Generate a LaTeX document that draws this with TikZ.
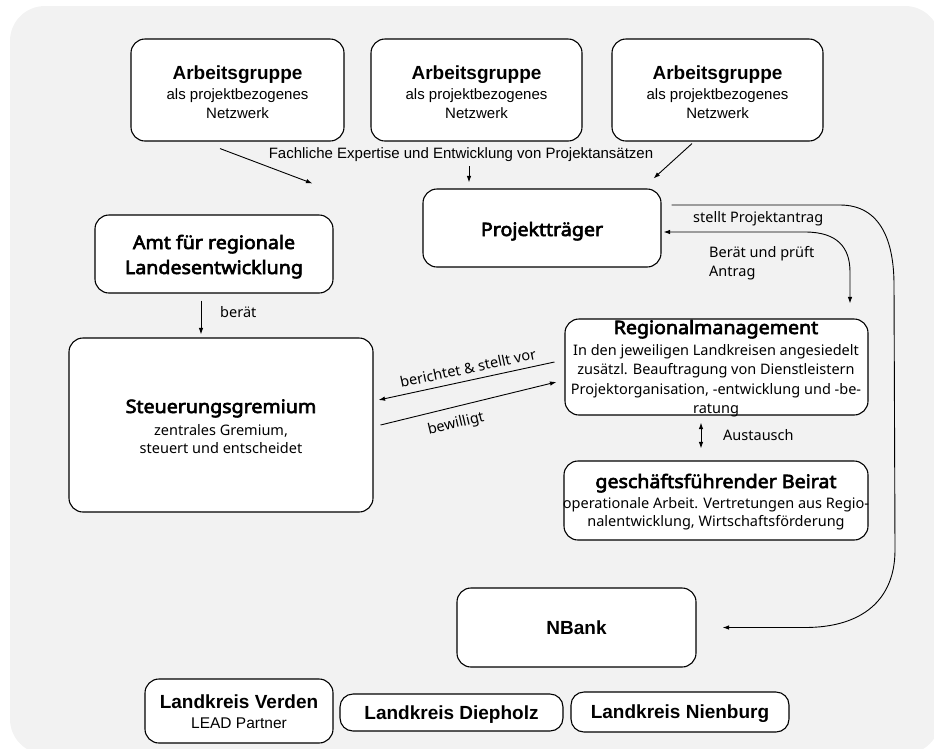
\documentclass[tikz,border=0pt]{standalone}
\usepackage{fontspec}
\setmainfont{Noto Sans}
\newfontfamily\lib{Liberation Sans}
\newfontfamily\notob[FakeBold=3.4,FakeStretch=1.06]{Noto Sans}
\usetikzlibrary{arrows.meta,calc}
\definecolor{bgcol}{RGB}{242,242,242}
\begin{document}
\begin{tikzpicture}[x=1pt,y=-1pt,
  box/.style={draw=black,line width=1.1pt,rounded corners=14pt,fill=white,inner sep=0pt},
  conn/.style={line width=0.9pt,-{Latex[length=6.5pt,width=4.5pt]}},
  dconn/.style={line width=0.9pt,{Latex[length=6.5pt,width=4.5pt]}-{Latex[length=6.5pt,width=4.5pt]}},
  agt/.style={anchor=base,inner sep=0pt,font=\lib\bfseries\fontsize{19}{22}\selectfont},
  agb/.style={anchor=base,inner sep=0pt,font=\lib\fontsize{15}{18}\selectfont},
  ttl/.style={anchor=base,inner sep=0pt,font=\notob\fontsize{18.5}{22}\selectfont},
  bod/.style={anchor=base,inner sep=0pt,font=\fontsize{14.5}{18}\selectfont},
  lbl/.style={anchor=base west,inner sep=0pt,font=\fontsize{14.5}{18}\selectfont},
]
\useasboundingbox (0,0) rectangle (934,748);
\fill[bgcol,rounded corners=35pt] (10,6) rectangle (940,754);

% boxes
\node[box,minimum width=213pt,minimum height=102pt] (ag1) at (237.5,90) {};
\node[box,minimum width=211pt,minimum height=102pt] (ag2) at (476.5,90) {};
\node[box,minimum width=211pt,minimum height=102pt] (ag3) at (717.5,90) {};
\node[box,minimum width=238pt,minimum height=78pt] (pt) at (542,228) {};
\node[box,minimum width=238pt,minimum height=78pt] (amt) at (214,254) {};
\node[box,minimum width=304pt,minimum height=174pt] (st) at (221,425) {};
\node[box,minimum width=303pt,minimum height=96pt] (rm) at (716.5,367) {};
\node[box,minimum width=304pt,minimum height=79pt] (br) at (716,500.5) {};
\node[box,minimum width=239pt,minimum height=79pt] (nb) at (576.5,627.5) {};
\node[box,minimum width=188pt,minimum height=64pt] (lv) at (239,711) {};
\node[box,minimum width=223pt,minimum height=37pt,rounded corners=13pt] (ld) at (451.5,712.5) {};
\node[box,minimum width=218pt,minimum height=40pt,rounded corners=13pt] (ln) at (680,712) {};

% AG texts
\foreach \n/\x in {1/237.5,2/476.5,3/717.5}{
  \node[agt] (ag\n t) at (\x,79) {Arbeitsgruppe};
  \node[agb] (ag\n a) at (\x,99) {als projektbezogenes};
  \node[agb] (ag\n b) at (\x,118) {Netzwerk};
}
\node[agb] (fach) at (461,158) {Fachliche Expertise und Entwicklung von Projektansätzen};

\node[ttl] (ptt) at (542,236) {Projektträger};
\node[ttl] (amt1) at (214,249) {Amt für regionale};
\node[ttl] (amt2) at (214,274) {Landesentwicklung};
\node[lbl] (berat) at (220,317) {berät};

\node[ttl] (st1) at (221,413) {Steuerungsgremium};
\node[bod] (st2) at (221,435) {zentrales Gremium,};
\node[bod] (st3) at (221,453) {steuert und entscheidet};

\node[ttl] (rm1) at (716,334) {Regionalmanagement};
\node[bod] (rm2) at (716,355) {In den jeweiligen Landkreisen angesiedelt};
\node[bod] (rm3) at (716,374) {zusätzl. Beauftragung von Dienstleistern};
\node[bod] (rm4) at (716,394) {Projektorganisation, -entwicklung und -be-};
\node[bod] (rm5) at (716,413) {ratung};

\node[lbl] (aus) at (723,440) {Austausch};

\node[ttl] (br1) at (716,488) {geschäftsführender Beirat};
\node[bod] (br2) at (716,508) {operationale Arbeit. Vertretungen aus Regio-};
\node[bod] (br3) at (716,526) {nalentwicklung, Wirtschaftsförderung};

\node[lbl] (spa) at (693,222) {stellt Projektantrag};
\node[lbl] (bup1) at (709,257) {Berät und prüft};
\node[lbl] (bup2) at (709,276) {Antrag};

\node[agt] (nbt) at (576.5,634) {NBank};
\node[agt] (lv1) at (239,708) {Landkreis Verden};
\node[agb,font=\lib\fontsize{15.5}{18}\selectfont] (lv2) at (239,728) {LEAD Partner};
\node[agt] (ldt) at (451.5,719) {Landkreis Diepholz};
\node[agt] (lnt) at (680,718) {Landkreis Nienburg};

\node[bod,anchor=center,rotate=12] (bsv) at (468,368) {berichtet \& stellt vor};
\node[bod,anchor=center,rotate=13.5] (bew) at (456,424) {bewilligt};

% connectors
\draw[conn] ($(ag1.south)+(-17.5,7)$) -- ($(pt.north west)+(-110,-5)$);
\draw[conn] ($(fach.south)+(8,5)$) -- ($(pt.north)+(-73,-6)$);
\draw[conn] ($(ag3.south)+(-25.5,2)$) -- ($(pt.north east)+(-8,-10)$);

\coordinate (s1) at ($(pt.east)+(10,-23)$);
\draw[conn] (s1) -- (840,205) .. controls (880,205) and (894,240) .. (894,285)
  -- (895,550) .. controls (895,600) and (862,627.5) .. (805,627.5) -- ($(nb.east)+(26,0)$);

\draw[dconn] ($(pt.east)+(2,4)$) -- (805,232) .. controls (838,232) and (850,248) .. (850,272)
  -- ($(rm.north)+(133.5,-15)$);

\draw[conn] ($(rm.west)+(-10,-5)$) -- ($(st.east)+(5,-25)$);
\draw[conn] ($(st.east)+(7,0)$) -- ($(rm.west)+(-8,15)$);
\draw[conn] ($(amt.south)+(-13,7)$) -- ($(st.north)+(-20,-3)$);
\draw[dconn] ($(rm.south)+(-15.5,7)$) -- ($(br.north)+(-15,-12)$);
\end{tikzpicture}
\end{document}
